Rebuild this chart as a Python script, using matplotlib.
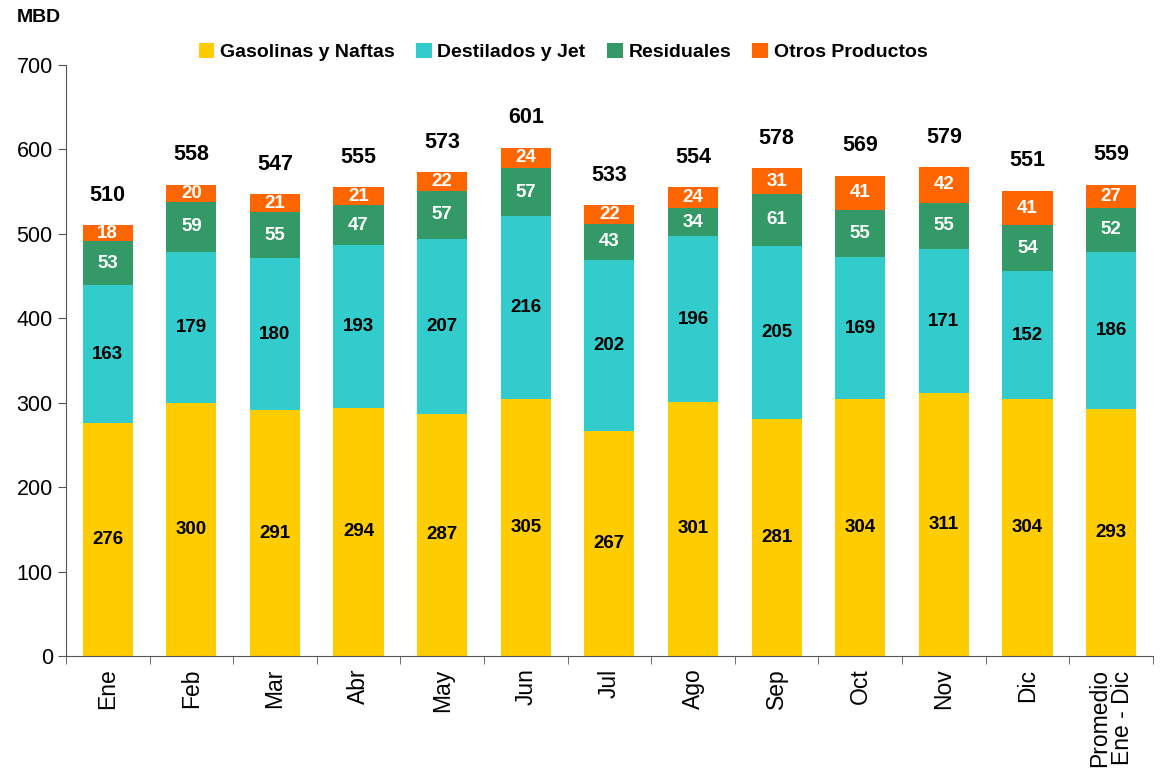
import numpy as np
import matplotlib.pyplot as plt

plt.rcParams['font.family'] = ['Liberation Sans', 'DejaVu Sans']

categories = ['Ene', 'Feb', 'Mar', 'Abr', 'May', 'Jun', 'Jul', 'Ago', 'Sep',
              'Oct', 'Nov', 'Dic', 'Promedio\nEne - Dic']
gasolinas = [276, 300, 291, 294, 287, 305, 267, 301, 281, 304, 311, 304, 293]
destilados = [163, 179, 180, 193, 207, 216, 202, 196, 205, 169, 171, 152, 186]
residuales = [53, 59, 55, 47, 57, 57, 43, 34, 61, 55, 55, 54, 52]
otros = [18, 20, 21, 21, 22, 24, 22, 24, 31, 41, 42, 41, 27]
totales = [510, 558, 547, 555, 573, 601, 533, 554, 578, 569, 579, 551, 559]

series = [
    ('Gasolinas y Naftas', gasolinas, '#FFCC00', 'black'),
    ('Destilados y Jet', destilados, '#33CCCC', 'black'),
    ('Residuales', residuales, '#339966', 'white'),
    ('Otros Productos', otros, '#FF6600', 'white'),
]

fig = plt.figure(figsize=(11.61, 7.77), dpi=100)
ax = fig.add_axes([0.0568, 0.1557, 0.9362, 0.7606])

x = np.arange(len(categories))
width = 0.6
bottom = np.zeros(len(categories))
for name, vals, color, tcolor in series:
    vals = np.array(vals, dtype=float)
    ax.bar(x, vals, width, bottom=bottom, color=color, label=name)
    for xi, b, v in zip(x, bottom, vals):
        ax.text(xi, b + v / 2, f'{int(v)}', ha='center', va='center',
                fontsize=13.5, fontweight='bold', color=tcolor)
    bottom += vals

# totals above each stack
for xi, top, tot in zip(x, bottom, totales):
    ax.annotate(f'{tot}', (xi, top), xytext=(0, 14), textcoords='offset points',
                ha='center', va='bottom', fontsize=15.5, fontweight='bold')

ax.set_xlim(-0.5, len(categories) - 0.5)
ax.set_ylim(0, 700)
ax.set_yticks(np.arange(0, 701, 100))
ax.tick_params(axis='y', labelsize=15.5, length=6, direction='out', color='#555555')
ax.set_xticks(x)
ax.set_xticklabels(categories, rotation=90, fontsize=16.5, linespacing=0.95)
ax.tick_params(axis='x', which='major', length=0, pad=9)
ax.set_xticks(np.arange(-0.5, len(categories), 1), minor=True)
ax.tick_params(axis='x', which='minor', length=6, color='#555555')

for s in ['top', 'right']:
    ax.spines[s].set_visible(False)
for s in ['left', 'bottom']:
    ax.spines[s].set_color('#555555')

fig.text(0.014, 0.988, 'MBD', fontsize=14, fontweight='bold', va='top')
fig.legend(loc='center', bbox_to_anchor=(0.485, 0.933), ncol=4, frameon=False,
           prop={'size': 14, 'weight': 'bold'}, handlelength=0.8, handleheight=0.8,
           handletextpad=0.3, columnspacing=1.1)

fig.savefig('out.png', dpi=100)
